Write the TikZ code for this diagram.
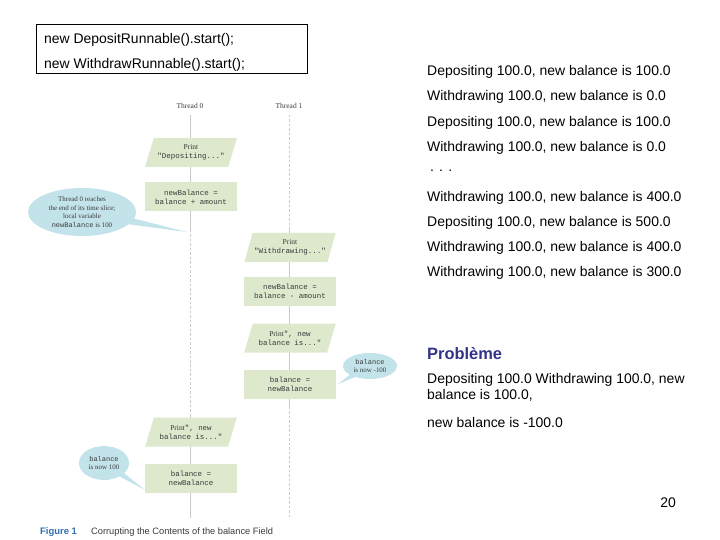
\documentclass[tikz,border=0pt]{standalone}
\usepackage{fontspec}
\setmainfont{Liberation Sans}
\newfontfamily\codefont{Liberation Mono}
\newfontfamily\bookfont{Liberation Serif}
\usetikzlibrary{shapes.geometric,shapes.callouts}
\definecolor{StepGreen}{HTML}{DDE8CC}
\definecolor{NoteBlue}{HTML}{C3E3EA}
\definecolor{ThreadGray}{HTML}{CACACA}
\definecolor{DiagInk}{HTML}{3A3A3A}
\definecolor{TitleBlue}{HTML}{333388}
\definecolor{CaptionBlue}{HTML}{2F6EB5}

\begin{document}
\begin{tikzpicture}[
  x=1bp,y=-1bp,
  stepbox/.style={rectangle,fill=StepGreen,minimum width=92bp,minimum height=29bp,inner sep=1pt,align=center,text=DiagInk,font=\codefont\fontsize{7.5}{9}\selectfont},
  printbox/.style={trapezium,trapezium left angle=63,trapezium right angle=117,trapezium stretches=true,fill=StepGreen,minimum width=92bp,minimum height=29bp,inner sep=0pt,align=center,text=DiagInk,font=\codefont\fontsize{7.5}{9}\selectfont},
  note/.style={ellipse callout,fill=NoteBlue,inner sep=0pt,align=center,text=DiagInk,font=\bookfont\fontsize{7}{8.5}\selectfont},
  active/.style={draw=ThreadGray,line width=0.8pt},
  idle/.style={draw=ThreadGray,line width=0.8pt,dash pattern=on 2.5pt off 2pt},
  slide/.style={anchor=west,inner sep=0pt,font=\fontsize{14}{16}\selectfont},
]
  \useasboundingbox (0,0) rectangle (720,540);

  % launch code
  \node[draw,line width=0.8pt,minimum width=271bp,minimum height=49bp,inner sep=0pt] (launch) at (171.5,48.5) {};
  \node[slide] at (44,40) {new DepositRunnable().start();};
  \node[slide] at (44,65) {new WithdrawRunnable().start();};

  % threads
  \node[font=\bookfont\fontsize{7.5}{9}\selectfont,text=DiagInk] (t0) at (190,106) {Thread 0};
  \node[font=\bookfont\fontsize{7.5}{9}\selectfont,text=DiagInk] (t1) at (289,106) {Thread 1};
  \coordinate (t0a) at (190,115);
  \coordinate (t0b) at (190,230);
  \coordinate (t0c) at (190,415);
  \coordinate (t0d) at (190,518);
  \coordinate (t1a) at (289,115);
  \coordinate (t1b) at (289,230);
  \coordinate (t1c) at (289,407);
  \coordinate (t1d) at (289,518);
  \draw[active] (t0a) -- (t0b);
  \draw[idle] (t0b) -- (t0c);
  \draw[active] (t0c) -- (t0d);
  \draw[idle] (t1a) -- (t1b);
  \draw[active] (t1b) -- (t1c);
  \draw[idle] (t1c) -- (t1d);

  % thread 0, first slice
  \node[printbox] (dep) at (191,152.5) {{\bookfont Print}\\"Depositing..."};
  \node[stepbox] (newdep) at (191,197) {newBalance =\\balance + amount};
  \node[note,minimum width=108bp,minimum height=48bp,callout absolute pointer={(187,232)}] (slice) at (82,212)
    {Thread 0 reaches\\the end of its time slice;\\local variable\\{\codefont newBalance} is 100};

  % thread 1
  \node[printbox] (wd) at (290,247.5) {{\bookfont Print}\\"Withdrawing..."};
  \node[stepbox] (newwd) at (290,291) {newBalance =\\balance - amount};
  \node[printbox] (wdmsg) at (290,338) {{\bookfont Print}", new\\balance is..."};
  \node[stepbox] (setwd) at (290,384) {balance =\\newBalance};
  \node[note,minimum width=54bp,minimum height=26bp,callout absolute pointer={(338,384)}] (minus) at (370,366)
    {{\codefont balance}\\is now -100};

  % thread 0, second slice
  \node[printbox] (depmsg) at (191,432) {{\bookfont Print}", new\\balance is..."};
  \node[stepbox] (setdep) at (191,478) {balance =\\newBalance};
  \node[note,minimum width=50bp,minimum height=34bp,callout absolute pointer={(145,490)}] (plus) at (104,463)
    {{\codefont balance}\\is now 100};

  % caption
  \node[anchor=west,inner sep=0pt,text=CaptionBlue,font=\bfseries\fontsize{9.5}{11}\selectfont] (fig) at (40,532) {Figure 1};
  \node[anchor=west,inner sep=0pt,text=DiagInk,font=\fontsize{9.3}{11}\selectfont] (cap) at (91,532) {Corrupting the Contents of the balance Field};

  % output
  \node[slide] (o1) at (427,72) {Depositing 100.0, new balance is 100.0};
  \node[slide] (o2) at (427,97) {Withdrawing 100.0, new balance is 0.0};
  \node[slide] (o3) at (427,123) {Depositing 100.0, new balance is 100.0};
  \node[slide] (o4) at (427,148) {Withdrawing 100.0, new balance is 0.0};
  \node[slide] (o5) at (430,171) {. . .};
  \node[slide] (o6) at (427,198) {Withdrawing 100.0, new balance is 400.0};
  \node[slide] (o7) at (427,223) {Depositing 100.0, new balance is 500.0};
  \node[slide] (o8) at (427,248) {Withdrawing 100.0, new balance is 400.0};
  \node[slide] (o9) at (427,273) {Withdrawing 100.0, new balance is 300.0};

  \node[slide,text=TitleBlue,font=\bfseries\fontsize{16.5}{19}\selectfont] (issue) at (427,354) {Problème};
  \node[slide,anchor=north west,align=left] (case) at (427,373)
    {Depositing 100.0 Withdrawing 100.0, new\\balance is 100.0,};
  \node[slide] (result) at (427,423) {new balance is -100.0};

  \node[slide,anchor=center] (page) at (668,503) {20};
\end{tikzpicture}
\end{document}
